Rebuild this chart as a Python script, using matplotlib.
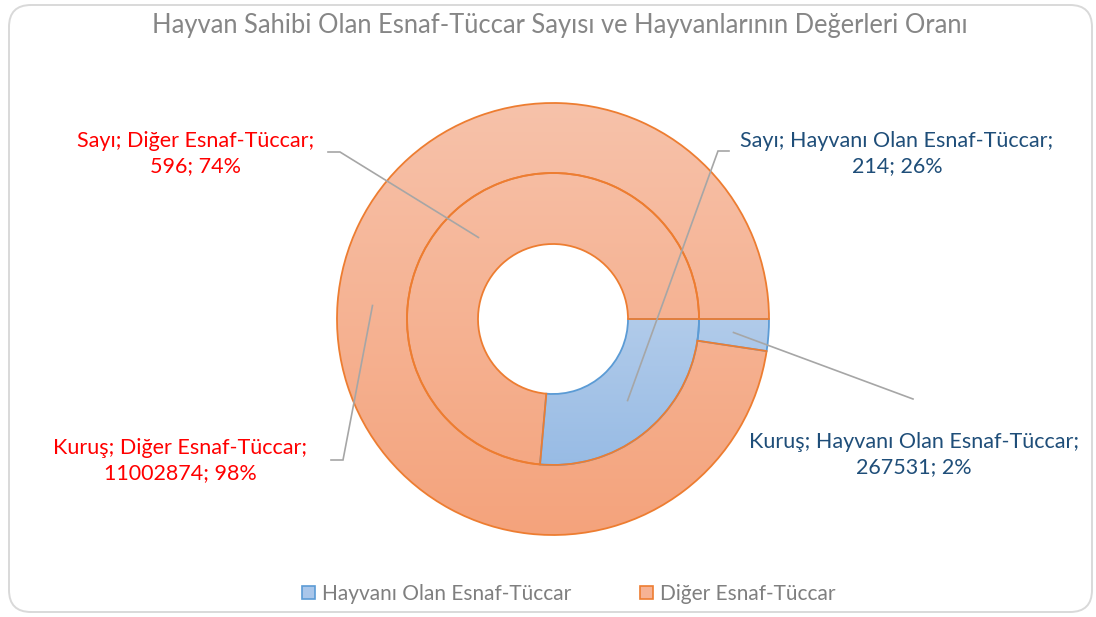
import numpy as np
import matplotlib.pyplot as plt
from matplotlib.patches import FancyBboxPatch, Patch

plt.rcParams["font.family"] = ["Lato", "DejaVu Sans"]

# veriler
kategoriler = ["Hayvanı Olan Esnaf-Tüccar", "Diğer Esnaf-Tüccar"]
sayi = [214, 596]
kurus = [267531, 11002874]
baslik = "Hayvan Sahibi Olan Esnaf-Tüccar Sayısı ve Hayvanlarının Değerleri Oranı"

W, H = 1096, 617
fig = plt.figure(figsize=(W / 100, H / 100), dpi=100)
ax = fig.add_axes([0, 0, 1, 1])

cx, cy = 553, H - 319
R_dis, R_ic, R_delik = 216, 146, 75

turuncu_kenar = "#ED7D31"
mavi_kenar = "#5B9BD5"

# dış halka: kuruş, iç halka: sayı
dis, _ = ax.pie(kurus, radius=R_dis, center=(cx, cy), startangle=0, counterclock=False,
                wedgeprops=dict(width=R_dis - R_ic, facecolor="none", linewidth=1.3))
ic, _ = ax.pie(sayi, radius=R_ic, center=(cx, cy), startangle=0, counterclock=False,
               wedgeprops=dict(width=R_ic - R_delik, facecolor="none", linewidth=1.3))


def gradyan(ust, alt):
    t = np.linspace(0, 1, 256)[:, None]
    ust = np.array(ust) / 255.0
    alt = np.array(alt) / 255.0
    img = ust[None, None, :] * (1 - t[:, :, None]) + alt[None, None, :] * t[:, :, None]
    return np.repeat(img, 2, axis=1)


renk_ust = [(214, 226, 242), (247, 194, 170)]
renk_alt = [(140, 180, 226), (244, 163, 124)]

for halka in (dis, ic):
    for i, w in enumerate(halka):
        w.set_edgecolor([mavi_kenar, turuncu_kenar][i])
        img = ax.imshow(gradyan(renk_ust[i], renk_alt[i]), aspect="auto",
                        extent=(cx - R_dis, cx + R_dis, cy - R_dis, cy + R_dis),
                        zorder=0.5, interpolation="bilinear")
        img.set_clip_path(w)

# turuncu kenarlar üstte kalsın
for w in (dis[1], ic[1]):
    w.set_zorder(3)
for w in (dis[0], ic[0]):
    w.set_zorder(2)

ax.set_xlim(0, W)
ax.set_ylim(0, H)
ax.set_aspect("equal")
ax.axis("off")

# çerçeve
ax.add_patch(FancyBboxPatch((9, 5), 1083, 607, boxstyle="round,pad=0,rounding_size=22",
                            facecolor="none", edgecolor="#D9D9D9", linewidth=1.4, zorder=1))

ax.text(560, H - 25, baslik, ha="center", va="center", fontsize=18.4, color="#868686")

kirmizi = "#FF0000"
lacivert = "#1F4E79"
cizgi = "#A6A6A6"


def orta_nokta(w):
    aci = np.deg2rad((w.theta1 + w.theta2) / 2)
    r = w.r - w.width / 2
    return cx + r * np.cos(aci), cy + r * np.sin(aci)


def yuzde(degerler, i):
    return round(100 * degerler[i] / sum(degerler))


etiketler = [
    # dilim, seri adı, değerler, indeks, metin merkezi, kırılma noktaları, renk
    (ic[1], "Sayı", sayi, 1, (196, 154), [(328, 152), (340, 152)], kirmizi),
    (ic[0], "Sayı", sayi, 0, (897, 154), [(729, 151), (718, 151)], lacivert),
    (dis[1], "Kuruş", kurus, 1, (180, 461), [(331, 460), (343, 460)], kirmizi),
    (dis[0], "Kuruş", kurus, 0, (914, 455), [(913, 399)], lacivert),
]

for w, seri, degerler, i, (tx, ty), kirik, renk in etiketler:
    metin = f"{seri}; {kategoriler[i]};\n{degerler[i]}; {yuzde(degerler, i)}%"
    ax.text(tx, H - ty, metin, ha="center", va="center", fontsize=15.5, color=renk,
            linespacing=1.32)
    mx, my = orta_nokta(w)
    xs = [p[0] for p in kirik] + [mx]
    ys = [H - p[1] for p in kirik] + [my]
    ax.plot(xs, ys, color=cizgi, linewidth=1.2, zorder=4, solid_joinstyle="miter")

tutamaclar = [Patch(facecolor="#A9C6EA", edgecolor=mavi_kenar, linewidth=1.2),
              Patch(facecolor="#F6B294", edgecolor=turuncu_kenar, linewidth=1.2)]
fig.legend(tutamaclar, kategoriler, loc="center", bbox_to_anchor=(569 / W, 1 - 594 / H),
           ncol=2, frameon=False, fontsize=15, labelcolor="#7F7F7F",
           handlelength=0.6, handleheight=0.6, handletextpad=0.35, columnspacing=3.3)

fig.savefig("out.png", dpi=100)
